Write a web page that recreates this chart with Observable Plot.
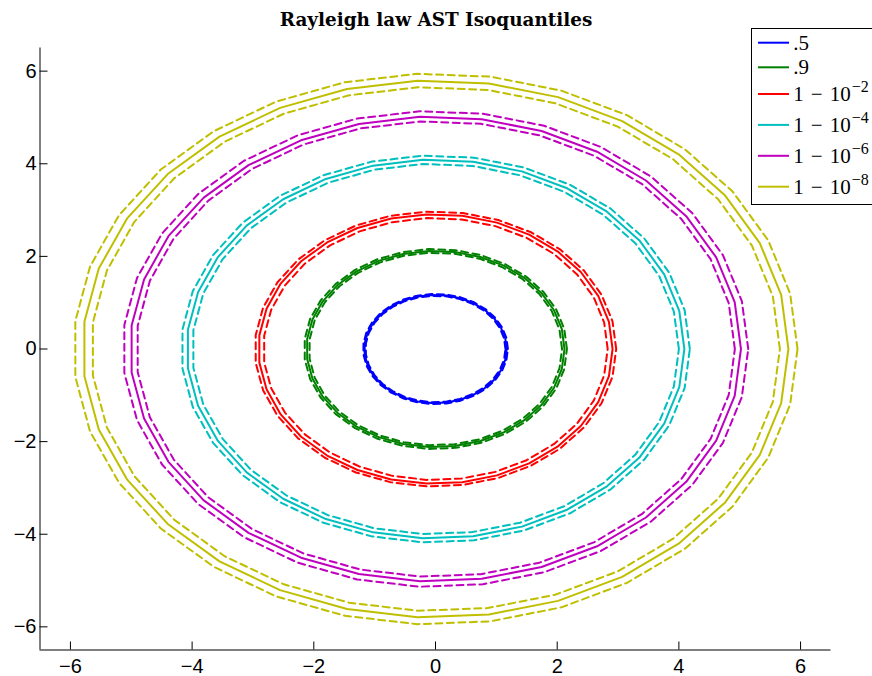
<!DOCTYPE html>
<html><head><meta charset="utf-8">
<script src="https://cdn.jsdelivr.net/npm/d3@7"></script>
<script src="https://cdn.jsdelivr.net/npm/@observablehq/plot@0.6"></script>
<style>
html,body{margin:0;padding:0;background:#fff;overflow:hidden;width:872px;height:676px}
#wrap{position:relative;width:872px;height:676px}
#legend{position:absolute;left:751px;top:28px;width:140px;height:177px;border:1px solid #000;background:#fff;box-sizing:border-box}
#legend svg{display:block}
</style></head><body><div id="wrap"></div>
<script>
// ---- data ----
const quantiles = [".5", ".9", "1-1e-2", "1-1e-4", "1-1e-6", "1-1e-8"];
const labelMain = [".5", ".9", "1 − 10", "1 − 10", "1 − 10", "1 − 10"];
const labelExp = ["", "", "−2", "−4", "−6", "−8"];
const colors = ["#0000ff", "#008000", "#ff0000", "#00bfbf", "#bf00bf", "#bfbf00"];
const radiusSolid = [1.17, 2.12, 2.91, 4.09, 5.02, 5.80];
const radiusInner = [1.15, 2.08, 2.83, 4.00, 4.92, 5.66];
const radiusOuter = [1.19, 2.16, 2.97, 4.18, 5.14, 5.95];
const vertexCount = 31;
const xTicks = [-6, -4, -2, 0, 2, 4, 6];
const yTicks = [-6, -4, -2, 0, 2, 4, 6];
const titleText = "Rayleigh law AST Isoquantiles";

// ---- build polygon rows from the radii ----
function ring(q, r, kind) {
  const pts = [];
  for (let k = 0; k <= vertexCount; k++) {
    const a = 2 * Math.PI * k / vertexCount;
    pts.push({q, kind, x: r * Math.cos(a), y: r * Math.sin(a)});
  }
  return pts;
}
const solidRows = quantiles.flatMap((q, i) => ring(q, radiusSolid[i], "solid"));
const dashRows = quantiles.flatMap((q, i) => [...ring(q, radiusInner[i], "inner"), ...ring(q, radiusOuter[i], "outer")]);

const fmt = d => d < 0 ? "−" + (-d) : String(d);

const chart = Plot.plot({
  width: 872,
  height: 676,
  marginLeft: 39.5,
  marginRight: 41.5,
  marginTop: 47.5,
  marginBottom: 26.5,
  style: {fontFamily: "'Liberation Sans', Arial, sans-serif", fontSize: "20px", background: "#fff", color: "#000"},
  x: {domain: [-6.5, 6.5], label: null},
  y: {domain: [-6.5, 6.5], label: null},
  color: {domain: quantiles, range: colors},
  marks: [
    Plot.ruleX([-6.5], {stroke: "#000", strokeWidth: 1}),
    Plot.ruleY([-6.5], {stroke: "#555", strokeWidth: 1.5}),
    Plot.axisX(xTicks, {tickSize: -8, fill: "none", label: null, stroke: "#000"}),
    Plot.axisX(xTicks, {tickSize: 0, tickPadding: 9, tickFormat: fmt, label: null, fill: "#000", fontSize: 20}),
    Plot.axisY(yTicks, {tickSize: -8, fill: "none", label: null, stroke: "#000"}),
    Plot.axisY(yTicks, {tickSize: 0, tickPadding: 3.5, tickFormat: fmt, label: null, fill: "#000", fontSize: 20}),
    Plot.line(solidRows, {x: "x", y: "y", z: "q", stroke: "q", strokeWidth: 2, strokeLinejoin: "round"}),
    Plot.line(dashRows, {x: "x", y: "y", z: d => d.q + d.kind, stroke: "q", strokeWidth: 2, strokeDasharray: "7,4.5"})
  ]
});
const wrap = document.getElementById("wrap");
wrap.appendChild(chart);

// title
d3.select(chart).append("text")
  .attr("x", 436).attr("y", 26)
  .attr("text-anchor", "middle")
  .style("font-family", "'DejaVu Serif', serif")
  .style("font-weight", "bold")
  .style("font-size", "18.4px")
  .attr("fill", "#000")
  .text(titleText);

// legend
const leg = d3.select(wrap).append("div").attr("id", "legend");
const lsvg = leg.append("svg").attr("width", 140).attr("height", 176);
quantiles.forEach((q, i) => {
  const y = i < 2 ? 13.7 + i * 24.6 : 65 + (i - 2) * 30.9;
  lsvg.append("line").attr("x1", 6).attr("x2", 37).attr("y1", y).attr("y2", y)
    .attr("stroke", colors[i]).attr("stroke-width", 2);
  const t = lsvg.append("text").attr("x", 41.3).attr("y", y + 7)
    .style("font-family", "'Liberation Serif', serif").style("font-size", "21px").attr("fill", "#000");
  if (labelExp[i]) {
    const parts = labelMain[i].split(" ");
    t.append("tspan").text(parts[0]);
    t.append("tspan").attr("dx", 7).text(parts[1]);
    t.append("tspan").attr("dx", 7).text(parts[2]);
    t.append("tspan").attr("dx", 1).attr("dy", -9).style("font-size", "16px").text(labelExp[i]);
  } else {
    t.text(labelMain[i]);
  }
});
</script></body></html>
